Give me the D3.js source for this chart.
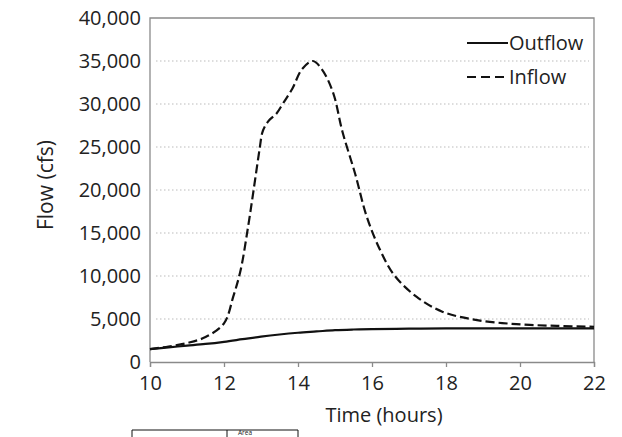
<!DOCTYPE html>
<html>
<head>
<meta charset="utf-8">
<script src="https://cdn.jsdelivr.net/npm/d3@7"></script>
<style>
  html, body { margin: 0; padding: 0; background: #fff; }
  svg { display: block; }
  text { font-family: "Open Sans", "Noto Sans", sans-serif; fill: #222; }
</style>
</head>
<body>
<svg id="chart" width="622" height="437"></svg>
<script>
// ---- data ----
const outflowHours  = [10, 10.5, 11, 11.5, 12, 12.5, 13, 13.5, 14, 14.5, 15, 15.5, 16, 17, 18, 20, 22];
const outflowValues = [1500, 1700, 1900, 2100, 2350, 2650, 2950, 3200, 3400, 3550, 3700, 3780, 3830, 3870, 3900, 3900, 3900];

const inflowHours  = [10, 10.5, 11, 11.5, 12, 12.25, 12.45, 12.65, 12.8, 12.97, 13.03, 13.1, 13.22, 13.42, 13.6, 13.85, 14.1, 14.4, 14.65, 14.95, 15.2, 15.55, 15.85, 16.2, 16.6, 17.2, 17.9, 18.8, 19.9, 21, 22];
const inflowValues = [1500, 1800, 2200, 2900, 4500, 7600, 10700, 15700, 20000, 25000, 26600, 27350, 28100, 28900, 30100, 31800, 34000, 35000, 34000, 31300, 26800, 21800, 17000, 13200, 10100, 7600, 5850, 4900, 4400, 4200, 4100];

const xTicks = [10, 12, 14, 16, 18, 20, 22];
const yTicks = [0, 5000, 10000, 15000, 20000, 25000, 30000, 35000, 40000];
const seriesNames = ["Outflow", "Inflow"];
const xTitle = "Time (hours)";
const yTitle = "Flow (cfs)";
const tableHeader = "Area";

// ---- layout ----
const svg = d3.select("#chart");
const L = 150, R = 594, T = 18, B = 362;
const x = d3.scaleLinear().domain([10, 22]).range([L, R]);
const y = d3.scaleLinear().domain([0, 40000]).range([B, T]);
const fmt = d3.format(",");
const FS = 20;

// gridlines
svg.append("g").selectAll("line")
  .data(yTicks.filter(v => v > 0 && v < 40000))
  .join("line")
  .attr("x1", L + 6).attr("x2", R - 5)
  .attr("y1", d => y(d)).attr("y2", d => y(d))
  .attr("stroke", "#bbb").attr("stroke-width", 1)
  .attr("stroke-dasharray", "1.5,2.5");

// frame
svg.append("path")
  .attr("d", `M${L},${B}V${T}H${R}V${B}`)
  .attr("fill", "none").attr("stroke", "#8a8a8a").attr("stroke-width", 1.3);

// x axis
const xAxis = svg.append("g").attr("transform", `translate(0,${B})`)
  .call(d3.axisBottom(x).tickValues(xTicks).tickSize(5).tickPadding(9).tickFormat(d3.format("d")));
xAxis.select(".domain").attr("stroke", "#8a8a8a").attr("stroke-width", 1.3);
xAxis.selectAll(".tick line").attr("stroke", "#8a8a8a").attr("stroke-width", 1.3);
xAxis.selectAll("text").attr("font-size", FS).attr("fill", "#222")
  .style("font-family", '"Open Sans", sans-serif');

// y axis
const yAxis = svg.append("g").attr("transform", `translate(${L},0)`)
  .call(d3.axisLeft(y).tickValues(yTicks).tickSize(0).tickPadding(9).tickFormat(fmt));
yAxis.select(".domain").remove();
yAxis.selectAll("text").attr("font-size", FS).attr("fill", "#222")
  .style("font-family", '"Open Sans", sans-serif');

// titles
svg.append("text").attr("x", (L + R) / 2 + 12).attr("y", 422)
  .attr("text-anchor", "middle").attr("font-size", FS).text(xTitle);
svg.append("text")
  .attr("transform", `translate(53,185) rotate(-90)`)
  .attr("text-anchor", "middle").attr("font-size", 21).text(yTitle);

// lines
const line = d3.line().x(d => x(d[0])).y(d => y(d[1])).curve(d3.curveCatmullRom.alpha(0.5));
const outflow = outflowHours.map((h, i) => [h, outflowValues[i]]);
const inflow = inflowHours.map((h, i) => [h, inflowValues[i]]);

svg.append("path").datum(outflow).attr("d", line)
  .attr("fill", "none").attr("stroke", "#111").attr("stroke-width", 2.2);
svg.append("path").datum(inflow).attr("d", line)
  .attr("fill", "none").attr("stroke", "#111").attr("stroke-width", 2.2)
  .attr("stroke-dasharray", "9,4");

// legend
const legend = svg.append("g");
const legY = [43, 77];
seriesNames.forEach((name, i) => {
  legend.append("line")
    .attr("x1", 467).attr("x2", 508).attr("y1", legY[i]).attr("y2", legY[i])
    .attr("stroke", "#111").attr("stroke-width", 2.2)
    .attr("stroke-dasharray", i === 1 ? "9,5" : null);
  legend.append("text").attr("x", 509).attr("y", legY[i])
    .attr("dy", "0.35em").attr("font-size", FS).text(name);
});

// partial table below chart
svg.append("path")
  .attr("d", "M132,437V430H298V437M227,430V437")
  .attr("fill", "none").attr("stroke", "#111").attr("stroke-width", 1);
svg.append("text").attr("x", 238).attr("y", 434.5).attr("font-size", 6.5).text(tableHeader);
</script>
</body>
</html>
